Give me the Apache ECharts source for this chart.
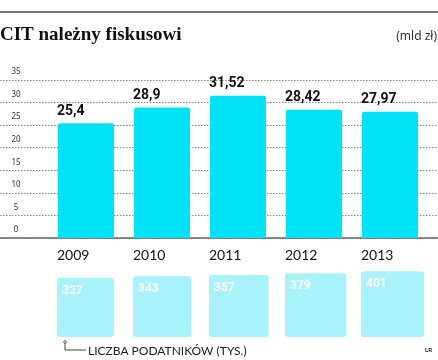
<!DOCTYPE html>
<html><head><meta charset="utf-8">
<script src="https://cdn.jsdelivr.net/npm/echarts@6/dist/echarts.min.js"></script>
<style>html,body{margin:0;padding:0;background:#fff}#c{width:438px;height:360px}</style>
</head><body><div id="c"></div>
<script>
var years = ['2009', '2010', '2011', '2012', '2013'];
var citValues = [25.4, 28.9, 31.52, 28.42, 27.97];
var taxpayers = [327, 343, 357, 379, 401];
var yTicks = [0, 5, 10, 15, 20, 25, 30, 35];

function fmt(v) { return String(v).replace('.', ','); }

var chart = echarts.init(document.getElementById('c'), null, { renderer: 'canvas' });
var BAR_COLOR = '#00e3f7';
var BOX_COLOR = '#a8f2fb';

chart.setOption({
  animation: false,
  title: [
    { text: 'CIT należny fiskusowi', left: 0, top: 26, padding: 0,
      textStyle: { fontFamily: 'Liberation Serif', fontWeight: 'bold', fontSize: 19, color: '#111' } },
    { text: '(mld zł)', right: 1, top: 31, padding: 0,
      textStyle: { fontFamily: 'Noto Sans', fontWeight: 'normal', fontSize: 12, color: '#333' } }
  ],
  grid: [
    { left: 0, right: 0, top: 80, height: 158 },
    { left: 48, width: 380, top: 80, height: 158 }
  ],
  xAxis: [
    { type: 'value', gridIndex: 0, min: 0, max: 1, show: true,
      axisLabel: { show: false }, axisTick: { show: false }, splitLine: { show: false },
      axisLine: { show: true, lineStyle: { color: '#666', width: 1.5 } } },
    { type: 'category', gridIndex: 1, data: years, show: false }
  ],
  yAxis: [
    { type: 'value', gridIndex: 0, min: yTicks[0], max: yTicks[yTicks.length - 1], interval: 5,
      axisLine: { show: false }, axisTick: { show: false },
      splitLine: { show: true, lineStyle: { type: [1.5, 1.5], color: '#888', width: 1 } },
      axisLabel: { inside: true, margin: 16, align: 'center', verticalAlign: 'bottom',
        padding: [0, 0, 4, 0], fontSize: 8, color: '#333', fontFamily: 'Noto Sans' } },
    { type: 'value', gridIndex: 1, min: 0, max: 35, show: false }
  ],
  series: [
    {
      type: 'bar', xAxisIndex: 1, yAxisIndex: 1, data: citValues, barWidth: 56,
      itemStyle: { color: BAR_COLOR, borderRadius: [2, 2, 0, 0] },
      label: { show: true, position: [-1, -5], align: 'left', verticalAlign: 'bottom',
        formatter: function (p) { return fmt(p.value); },
        fontFamily: 'Roboto', fontWeight: 'bold', fontSize: 14, color: '#111' }
    },
    {
      type: 'custom', xAxisIndex: 1, yAxisIndex: 1, clip: false,
      data: taxpayers.map(function (v, i) { return [i, v]; }),
      renderItem: function (params, api) {
        var idx = api.value(0), v = api.value(1);
        var base = api.coord([idx, 0]);
        var left = base[0] - 29;
        var s = Math.sqrt(v);
        var w = 3.15 * s, h = 3.28 * s;
        var bottom = base[1] + 99;
        return {
          type: 'group',
          children: [
            { type: 'text', style: { text: years[idx], x: left, y: base[1] + 17,
                verticalAlign: 'middle', align: 'left', fill: '#111',
                font: '14px Lato' } },
            { type: 'rect', shape: { x: left, y: bottom - h, width: w, height: h, r: 3 },
              style: { fill: BOX_COLOR } },
            { type: 'text', style: { text: String(v), x: left + 5, y: bottom - h + 13,
                verticalAlign: 'middle', align: 'left', fill: '#fff',
                font: 'bold 12px Roboto' } }
          ]
        };
      }
    }
  ],
  graphic: [
    { type: 'line', shape: { x1: 0, y1: 12, x2: 438, y2: 12 }, style: { stroke: '#777', lineWidth: 2 } },
    { type: 'polyline', shape: { points: [[65, 343], [65, 350], [86, 350]] }, style: { stroke: '#444', lineWidth: 1, fill: null } },
    { type: 'circle', shape: { cx: 65, cy: 342, r: 1.3 }, style: { stroke: '#444', fill: '#fff', lineWidth: 0.8 } },
    { type: 'text', x: 88, y: 351, style: { text: 'LICZBA PODATNIKÓW (TYS.)', font: '12px Lato', fill: '#222', verticalAlign: 'middle' } },
    { type: 'text', x: 425, y: 350, style: { text: 'LR', font: 'bold 6px Roboto', fill: '#333', verticalAlign: 'middle' } }
  ]
});
</script>
</body></html>
